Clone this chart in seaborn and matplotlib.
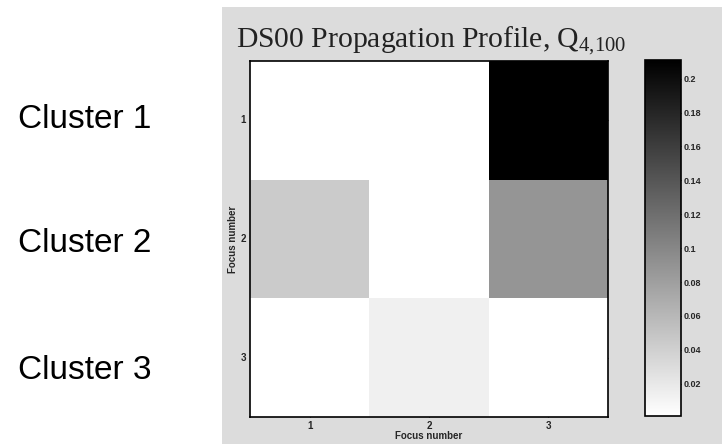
import matplotlib

matplotlib.use("Agg")

import matplotlib.pyplot as plt
import pandas as pd
import seaborn as sns
from matplotlib.patches import Rectangle

focus_labels = ["1", "2", "3"]
row_1 = [0.001, 0.001, 0.211]
row_2 = [0.044, 0.001, 0.088]
row_3 = [0.001, 0.0136, 0.001]
cluster_names = ["Cluster 1", "Cluster 2", "Cluster 3"]
cbar_ticks = [0.02, 0.04, 0.06, 0.08, 0.1, 0.12, 0.14, 0.16, 0.18, 0.2]
cbar_labels = ["0.02", "0.04", "0.06", "0.08", "0.1", "0.12", "0.14", "0.16", "0.18", "0.2"]

W, H = 722, 444


def fx(px):
    return px / W


def fy(py):
    return 1 - py / H


sns.set_theme(style="white")
plt.rcParams["font.family"] = ["Liberation Sans", "DejaVu Sans"]
plt.rcParams["mathtext.fontset"] = "custom"
plt.rcParams["mathtext.rm"] = "Liberation Serif"
plt.rcParams["mathtext.it"] = "Liberation Serif:italic"

profile = pd.DataFrame([row_1, row_2, row_3], index=focus_labels, columns=focus_labels)

fig = plt.figure(figsize=(W / 100, H / 100), dpi=100)
fig.patch.set_facecolor("white")
fig.add_artist(Rectangle((fx(222), 0), 1 - fx(222), fy(7), transform=fig.transFigure,
                         facecolor="#dcdcdc", edgecolor="none", zorder=0))

ax = fig.add_axes([fx(250), fy(417), fx(608) - fx(250), fy(61) - fy(417)])
cax = fig.add_axes([fx(645), fy(416), fx(681) - fx(645), fy(60) - fy(416)])

sns.heatmap(profile, ax=ax, cbar_ax=cax, cmap="gray_r", vmin=0.001, vmax=0.211,
            square=False, linewidths=0)

for spine in ax.spines.values():
    spine.set_visible(True)
    spine.set_color("black")
    spine.set_linewidth(1.2)
ax.tick_params(direction="in", length=3, width=0.8, color="black",
               left=True, right=True, top=True, bottom=True, pad=3)
for lab in ax.get_xticklabels() + ax.get_yticklabels():
    lab.set_fontsize(7)
    lab.set_fontweight("bold")
    lab.set_rotation(0)
ax.set_xlabel("Focus number", fontsize=7, fontweight="bold", labelpad=0)
ax.set_ylabel("Focus number", fontsize=7, fontweight="bold", labelpad=2)

cb = ax.collections[0].colorbar
cb.outline.set_visible(True)
cb.outline.set_linewidth(1.2)
cb.outline.set_edgecolor("black")
cb.set_ticks(cbar_ticks)
cb.set_ticklabels(cbar_labels)
cax.tick_params(direction="in", length=3, width=0.8, color="black",
                left=True, right=True, labelsize=6.5, pad=2)
for lab in cax.get_yticklabels():
    lab.set_fontweight("bold")

fig.text(fx(236), fy(47), r"DS00 Propagation Profile, Q$_{\mathrm{4{,}100}}$",
         fontsize=21.3, family="Liberation Serif", color="#222222", va="baseline", ha="left")

for name, ypos in zip(cluster_names, [120, 243, 370]):
    fig.text(fx(18), fy(ypos), name, fontsize=24, family="Liberation Sans",
             color="black", va="center", ha="left")

fig.savefig("out.png", dpi=100)
